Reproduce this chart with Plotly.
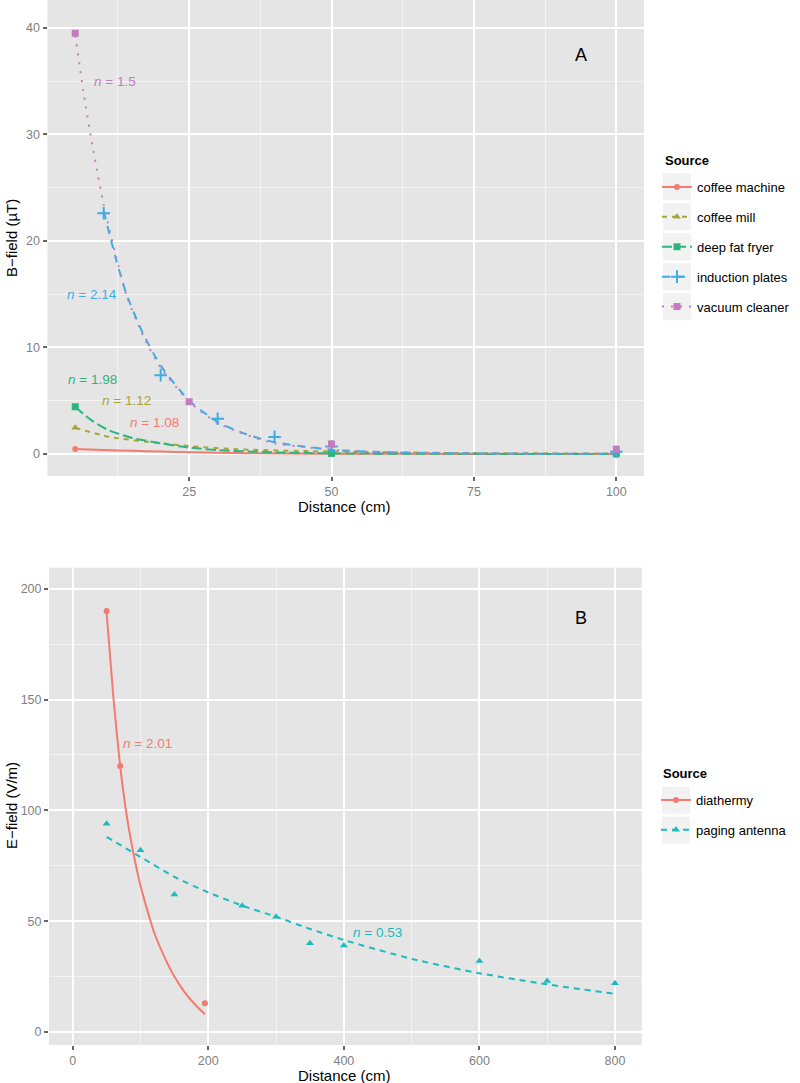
import plotly.graph_objects as go

# ---------------- Panel A : B-field ----------------
a_sources = ["coffee machine", "coffee mill", "deep fat fryer", "induction plates", "vacuum cleaner"]
a_colors = ["#F37B70", "#A8A43A", "#2EB57E", "#3DADE4", "#C57BBF"]
a_dash = ["solid", "5px,5px", "10px,4px", "8px,7px", "2px,7px"]
a_symbols = ["circle", "triangle-up", "square", "cross-thin", "square"]
a_labels = ["1.08", "1.12", "1.98", "2.14", "1.5"]
a_label_x = [19, 14, 8, 8, 12]
a_label_y = [3, 5, 7, 15, 35]

# measured points
cm_x = [5, 50, 100]
cm_y = [0.47, 0.05, 0.02]
mill_x = [5, 50, 100]
mill_y = [2.45, 0.2, 0.05]
fryer_x = [5, 50, 100]
fryer_y = [4.44, 0.05, 0.02]
ind_x = [10, 20, 30, 40, 50, 100]
ind_y = [22.6, 7.4, 3.3, 1.6, 0.7, 0.2]
vac_x = [5, 25, 50, 100]
vac_y = [39.5, 4.9, 0.94, 0.44]

# fitted curves
cm_fit_x = [5, 10, 15, 20, 25, 30, 35, 50, 75, 100]
cm_fit_y = [0.47, 0.37, 0.29, 0.22, 0.16, 0.11, 0.07, 0.02, 0.005, 0.0]
mill_fit_x = [5, 11, 20, 26, 33, 45, 60, 75, 100]
mill_fit_y = [2.45, 1.6, 1.0, 0.7, 0.45, 0.28, 0.15, 0.08, 0.04]
fryer_fit_x = [5, 8, 11, 15, 20, 25, 30, 40, 50, 75, 100]
fryer_fit_y = [4.4, 3.1, 2.2, 1.5, 1.0, 0.6, 0.35, 0.15, 0.05, 0.01, 0.0]
ind_fit_x = [10, 12, 14, 17, 20, 25, 30, 35, 40, 50, 60, 75, 100]
ind_fit_y = [22.8, 18.6, 15.0, 11.2, 8.3, 5.0, 3.0, 1.85, 1.1, 0.4, 0.15, 0.05, 0.01]
vac_fit_x = [5, 6.5, 8, 10, 12, 14, 17, 20, 25, 30, 35, 40, 50, 60, 75, 100]
vac_fit_y = [39.3, 33.8, 29.0, 23.4, 18.9, 14.9, 11.0, 8.1, 4.9, 2.9, 1.8, 1.0, 0.4, 0.15, 0.05, 0.01]

a_points = [(cm_x, cm_y), (mill_x, mill_y), (fryer_x, fryer_y), (ind_x, ind_y), (vac_x, vac_y)]
a_fits = [(cm_fit_x, cm_fit_y), (mill_fit_x, mill_fit_y), (fryer_fit_x, fryer_fit_y),
          (ind_fit_x, ind_fit_y), (vac_fit_x, vac_fit_y)]

# ---------------- Panel B : E-field ----------------
b_sources = ["diathermy", "paging antenna"]
b_colors = ["#F37B70", "#1CBBC0"]
b_dash = ["solid", "6px,5px"]
b_symbols = ["circle", "triangle-up"]
b_labels = ["2.01", "0.53"]
b_label_x = [110, 450]
b_label_y = [130, 45]

dia_x = [50, 70, 195]
dia_y = [190, 120, 13]
pag_x = [50, 100, 150, 250, 300, 350, 400, 600, 700, 800]
pag_y = [94, 82, 62, 57, 52, 40, 39, 32, 23, 22]

dia_fit_x = [50, 60, 70, 80, 90, 100, 110, 120, 135, 150, 165, 180, 195]
dia_fit_y = [189, 151, 120, 97, 80, 66, 55, 45, 34, 25, 18, 12.5, 8]
pag_fit_x = [50, 100, 150, 200, 250, 300, 350, 400, 500, 600, 700, 800]
pag_fit_y = [88, 79, 70, 63, 57, 52, 46.5, 41.5, 33, 26.5, 21.5, 17.2]

b_points = [(dia_x, dia_y), (pag_x, pag_y)]
b_fits = [(dia_fit_x, dia_fit_y), (pag_fit_x, pag_fit_y)]

FONT = "Liberation Sans, Arial, Helvetica, sans-serif"
W, H = 800, 1083

fig = go.Figure()


def msize_of(sym):
    return 9 if sym == "cross-thin" else (7 if sym != "circle" else 6)


def add_panel(sources, colors, dashes, symbols, points, fits, xa, ya, legend):
    for name, col, dsh, sym, (px, py), (fx, fy) in zip(sources, colors, dashes, symbols, points, fits):
        fig.add_trace(go.Scatter(x=px, y=py, mode="markers", xaxis=xa, yaxis=ya,
                                 marker=dict(symbol=sym, size=msize_of(sym), color=col,
                                             line=dict(color=col, width=2 if sym == "cross-thin" else 0)),
                                 showlegend=False, hoverinfo="skip"))
        fig.add_trace(go.Scatter(x=fx, y=fy, mode="lines", xaxis=xa, yaxis=ya,
                                 line=dict(color=col, width=2, dash=dsh, shape="spline", smoothing=0.6),
                                 showlegend=False, hoverinfo="skip"))
    for name, col, dsh, sym in zip(sources, colors, dashes, symbols):
        fig.add_trace(go.Scatter(x=[None], y=[None], mode="lines+markers", name=name,
                                 xaxis=xa, yaxis=ya, legend=legend, legendgroup=legend + name,
                                 line=dict(color=col, width=2, dash=dsh),
                                 marker=dict(symbol=sym, size=msize_of(sym), color=col,
                                             line=dict(color=col, width=2 if sym == "cross-thin" else 0))))


add_panel(a_sources, a_colors, a_dash, a_symbols, a_points, a_fits, "x", "y", "legend")
add_panel(b_sources, b_colors, b_dash, b_symbols, b_points, b_fits, "x2", "y2", "legend2")


def px2x(p):
    return p / W


def px2y(p):
    return 1 - p / H


def axis(minor_vals, **kw):
    d = dict(showline=False, zeroline=False, ticks="outside", ticklen=4, tickwidth=1.5,
             tickcolor="#666666", gridcolor="#FFFFFF", gridwidth=2,
             tickfont=dict(family=FONT, size=12.5, color="#7F7F7F"),
             minor=dict(showgrid=True, gridcolor="#F3F3F3", gridwidth=1, tickvals=minor_vals))
    d.update(kw)
    return d


fig.update_layout(
    width=W, height=H, margin=dict(l=0, r=0, t=0, b=0),
    paper_bgcolor="white", plot_bgcolor="#E5E5E5",
    font=dict(family=FONT, size=13, color="black"),
    xaxis=axis([12.5, 37.5, 62.5, 87.5], domain=[px2x(47.5), px2x(644)], range=[0.13, 104.86],
               tickvals=[25, 50, 75, 100], anchor="y"),
    yaxis=axis([5, 15, 25, 35], domain=[px2y(476), 1], range=[-2.07, 42.63],
               tickvals=[0, 10, 20, 30, 40], anchor="x"),
    xaxis2=axis([100, 300, 500, 700], domain=[px2x(49), px2x(641.7)], range=[-35, 839.4],
                tickvals=[0, 200, 400, 600, 800], anchor="y2"),
    yaxis2=axis([25, 75, 125, 175], domain=[px2y(1045), px2y(567.7)], range=[-5.87, 209.5],
                tickvals=[0, 50, 100, 150, 200], anchor="x2"),
    legend=dict(x=px2x(657), y=px2y(172), xanchor="left", yanchor="top",
                bgcolor="rgba(0,0,0,0)", borderwidth=0, tracegroupgap=10, itemwidth=30,
                font=dict(family=FONT, size=13)),
    legend2=dict(x=px2x(656), y=px2y(785), xanchor="left", yanchor="top",
                 bgcolor="rgba(0,0,0,0)", borderwidth=0, tracegroupgap=10, itemwidth=30,
                 font=dict(family=FONT, size=13)),
)

shapes = []
for i, _ in enumerate(a_sources):
    top = 173.3 + 30 * i
    shapes.append(dict(type="rect", xref="paper", yref="paper", x0=px2x(663), x1=px2x(691),
                       y0=px2y(top + 27), y1=px2y(top), fillcolor="#F2F2F2", line=dict(width=0), layer="below"))
for i, _ in enumerate(b_sources):
    top = 786.7 + 30 * i
    shapes.append(dict(type="rect", xref="paper", yref="paper", x0=px2x(662), x1=px2x(690),
                       y0=px2y(top + 27), y1=px2y(top), fillcolor="#F2F2F2", line=dict(width=0), layer="below"))
fig.update_layout(shapes=shapes)

ann = []
for lab, lx, ly, col in zip(a_labels, a_label_x, a_label_y, a_colors):
    ann.append(dict(x=lx, y=ly, xref="x", yref="y", text=f"<i>n</i> = {lab}", showarrow=False,
                    xanchor="center", yanchor="middle", font=dict(family=FONT, size=13.5, color=col)))
for lab, lx, ly, col in zip(b_labels, b_label_x, b_label_y, b_colors):
    ann.append(dict(x=lx, y=ly, xref="x2", yref="y2", text=f"<i>n</i> = {lab}", showarrow=False,
                    xanchor="center", yanchor="middle", font=dict(family=FONT, size=13.5, color=col)))
ann.append(dict(x=93.8, y=37.5, xref="x", yref="y", text="A", showarrow=False,
                xanchor="center", yanchor="middle", font=dict(family=FONT, size=18, color="black")))
ann.append(dict(x=750, y=187, xref="x2", yref="y2", text="B", showarrow=False,
                xanchor="center", yanchor="middle", font=dict(family=FONT, size=18, color="black")))
# legend titles
ann.append(dict(x=px2x(663), y=px2y(160), xref="paper", yref="paper", text="<b>Source</b>",
                xanchor="left", yanchor="middle", showarrow=False,
                font=dict(family=FONT, size=13, color="black")))
ann.append(dict(x=px2x(661), y=px2y(773), xref="paper", yref="paper", text="<b>Source</b>",
                xanchor="left", yanchor="middle", showarrow=False,
                font=dict(family=FONT, size=13, color="black")))
# axis titles
for tx, ty, txt, ang in [(344, 506, "Distance (cm)", 0), (344, 1075, "Distance (cm)", 0),
                         (11, 238, "B\u2212field (\u00b5T)", -90), (11, 806, "E\u2212field (V/m)", -90)]:
    ann.append(dict(x=px2x(tx), y=px2y(ty), xref="paper", yref="paper", text=txt, textangle=ang,
                    xanchor="center", yanchor="middle", showarrow=False,
                    font=dict(family=FONT, size=15, color="black")))
fig.update_layout(annotations=ann)

# remove the default page margin so the figure fills the 800x1083 window exactly
fig.write_html("out.html", config={"displayModeBar": False},
               post_script="document.body.style.margin='0';document.body.style.overflow='hidden';")
